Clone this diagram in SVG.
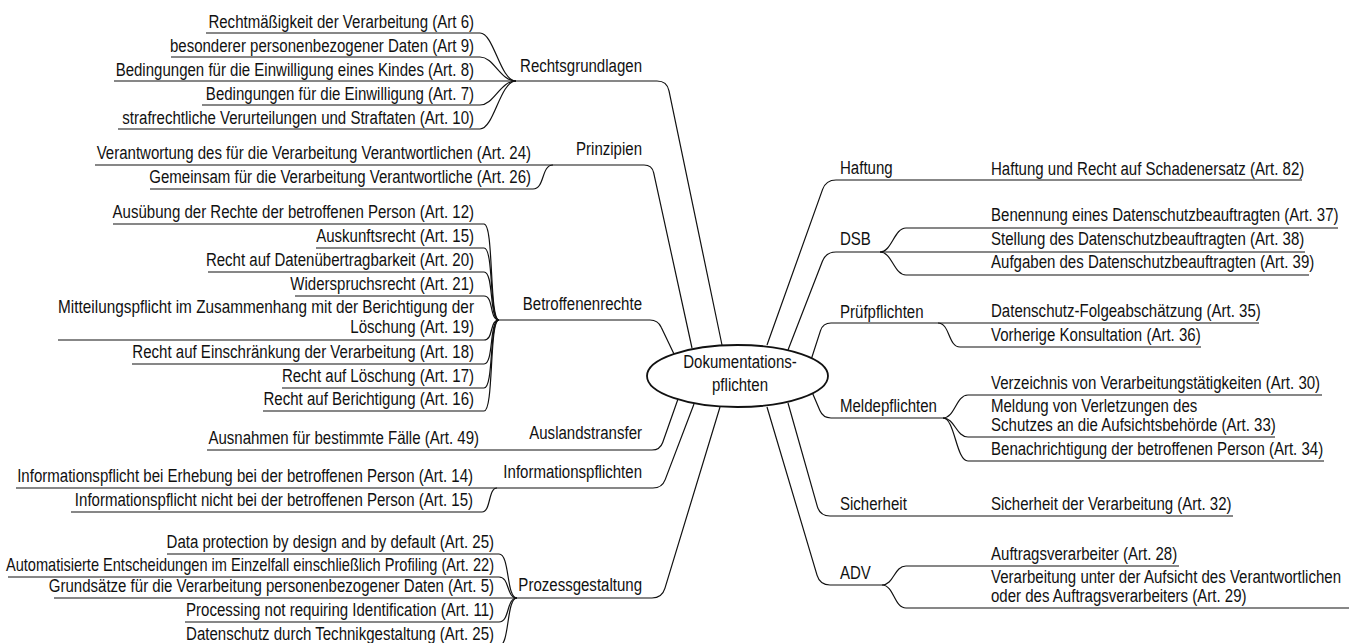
<svg xmlns="http://www.w3.org/2000/svg" width="1359" height="643" viewBox="0 0 1359 643">
<style>
text{font-family:"Liberation Sans Narrow","Liberation Sans",Arial,sans-serif;font-size:18px;fill:#111}
.e{text-anchor:end}
.m{text-anchor:middle}
.c path{fill:none;stroke:#111;stroke-width:1.2}
</style>
<rect width="1359" height="643" fill="#fff"/>
<g class="c" id="connectors">
<path d="M516 81 H657 Q667 81 669 90.8 L722 345"/>
<path d="M553 165 H644 Q652 165 653.7 172.8 L692 348"/>
<path d="M499 320 H650 Q658 320 661.2 327.3 L674 354"/>
<path d="M207 450 H652 Q660 450 662.7 442.5 L678 399"/>
<path d="M497 488 H653 Q662 488 665.2 479.6 L694 404"/>
<path d="M517 598 H652 Q662 598 664.9 588.4 L720 407"/>
<path d="M767 345 L822.6 189.4 Q826 180 836 180 H1302"/>
<path d="M788 350 L822.4 261.3 Q826 252 836 252 H880"/>
<path d="M811 360 L820.5 330.6 Q823 323 831 323 H1259"/>
<path d="M812 392 L819.9 410.6 Q823 418 831 418 H943"/>
<path d="M788 403 L817.3 506.4 Q820 516 830 516 H1233"/>
<path d="M767 407 L817.1 575.4 Q820 585 830 585 H882"/>
<path d="M206 33 H480 C494 33 500 81 516 81"/>
<path d="M171 57 H480 C494 57 500 81 516 81"/>
<path d="M114 81 H516"/>
<path d="M202 105 H480 C494 105 500 81 516 81"/>
<path d="M118 129 H480 C494 129 500 81 516 81"/>
<path d="M95 165 H553"/>
<path d="M150 189 H533 C545 189 541 165 553 165"/>
<path d="M113 224 H484 C494 224 489 320 499 320"/>
<path d="M316 248 H484 C494 248 489 320 499 320"/>
<path d="M208 272 H484 C494 272 489 320 499 320"/>
<path d="M295 296 H484 C494 296 489 320 499 320"/>
<path d="M58 340 H484 C494 340 489 320 499 320"/>
<path d="M132 364 H484 C494 364 489 320 499 320"/>
<path d="M282 388 H484 C494 388 489 320 499 320"/>
<path d="M263 411 H484 C494 411 489 320 499 320"/>
<path d="M16 488 H497"/>
<path d="M71 512 H482 C491 512 488 488 497 488"/>
<path d="M167 554 H499 C510 554 506 598 517 598"/>
<path d="M8 577 H499 C510 577 506 598 517 598"/>
<path d="M54 598 H517"/>
<path d="M185 622 H499 C510 622 506 598 517 598"/>
<path d="M186 646 H499 C510 646 506 598 517 598"/>
<path d="M880 252 C892 252 894 228 906 228 H1338"/>
<path d="M880 252 H1305"/>
<path d="M880 252 C892 252 894 275 906 275 H1309"/>
<path d="M938 323 C950 323 948 347 960 347 H1201"/>
<path d="M943 418 C955 418 956 395 968 395 H1322"/>
<path d="M943 418 C955 418 956 437 968 437 H1275"/>
<path d="M943 418 C955 418 956 461 968 461 H1324"/>
<path d="M882 585 C894 585 894 566 906 566 H1179"/>
<path d="M882 585 C894 585 894 608 906 608 H1349"/>
</g>
<g id="center">
<ellipse cx="737.5" cy="376" rx="90.5" ry="31" fill="#fff" stroke="#111" stroke-width="1.8"/>
<text class="m" transform="matrix(0.835 0 0 1 740 368)">Dokumentations-</text>
<text class="m" transform="matrix(0.835 0 0 1 740 391)">pflichten</text>
</g>
<g id="rechtsgrundlagen">
<text class="e" transform="matrix(0.835 0 0 1 642 72)">Rechtsgrundlagen</text>
<text class="e" transform="matrix(0.835 0 0 1 474 28)">Rechtmäßigkeit der Verarbeitung (Art 6)</text>
<text class="e" transform="matrix(0.835 0 0 1 474 52)">besonderer personenbezogener Daten (Art 9)</text>
<text class="e" transform="matrix(0.835 0 0 1 474 76)">Bedingungen für die Einwilligung eines Kindes (Art. 8)</text>
<text class="e" transform="matrix(0.835 0 0 1 474 100)">Bedingungen für die Einwilligung (Art. 7)</text>
<text class="e" transform="matrix(0.835 0 0 1 474 124)">strafrechtliche Verurteilungen und Straftaten (Art. 10)</text>
</g>
<g id="prinzipien">
<text class="e" transform="matrix(0.835 0 0 1 642 155)">Prinzipien</text>
<text class="e" transform="matrix(0.835 0 0 1 531 159)">Verantwortung des für die Verarbeitung Verantwortlichen (Art. 24)</text>
<text class="e" transform="matrix(0.835 0 0 1 531 183)">Gemeinsam für die Verarbeitung Verantwortliche (Art. 26)</text>
</g>
<g id="betroffenenrechte">
<text class="e" transform="matrix(0.835 0 0 1 642 310)">Betroffenenrechte</text>
<text class="e" transform="matrix(0.835 0 0 1 474 218)">Ausübung der Rechte der betroffenen Person (Art. 12)</text>
<text class="e" transform="matrix(0.835 0 0 1 474 242)">Auskunftsrecht (Art. 15)</text>
<text class="e" transform="matrix(0.835 0 0 1 474 266)">Recht auf Datenübertragbarkeit (Art. 20)</text>
<text class="e" transform="matrix(0.835 0 0 1 474 290)">Widerspruchsrecht (Art. 21)</text>
<text class="e" transform="matrix(0.852 0 0 1 474 313)">Mitteilungspflicht im Zusammenhang mit der Berichtigung der</text>
<text class="e" transform="matrix(0.835 0 0 1 474 333)">Löschung (Art. 19)</text>
<text class="e" transform="matrix(0.835 0 0 1 474 358)">Recht auf Einschränkung der Verarbeitung (Art. 18)</text>
<text class="e" transform="matrix(0.835 0 0 1 474 382)">Recht auf Löschung (Art. 17)</text>
<text class="e" transform="matrix(0.835 0 0 1 474 405)">Recht auf Berichtigung (Art. 16)</text>
</g>
<g id="auslandstransfer">
<text class="e" transform="matrix(0.835 0 0 1 642 439)">Auslandstransfer</text>
<text class="e" transform="matrix(0.835 0 0 1 479 444)">Ausnahmen für bestimmte Fälle (Art. 49)</text>
</g>
<g id="informationspflichten">
<text class="e" transform="matrix(0.835 0 0 1 642 478)">Informationspflichten</text>
<text class="e" transform="matrix(0.835 0 0 1 473 482)">Informationspflicht bei Erhebung bei der betroffenen Person (Art. 14)</text>
<text class="e" transform="matrix(0.835 0 0 1 473 506)">Informationspflicht nicht bei der betroffenen Person (Art. 15)</text>
</g>
<g id="prozessgestaltung">
<text class="e" transform="matrix(0.835 0 0 1 642 591)">Prozessgestaltung</text>
<text class="e" transform="matrix(0.835 0 0 1 494 548)">Data protection by design and by default (Art. 25)</text>
<text class="e" transform="matrix(0.81 0 0 1 494 571)">Automatisierte Entscheidungen im Einzelfall einschließlich Profiling (Art. 22)</text>
<text class="e" transform="matrix(0.835 0 0 1 494 592)">Grundsätze für die Verarbeitung personenbezogener Daten (Art. 5)</text>
<text class="e" transform="matrix(0.835 0 0 1 494 616)">Processing not requiring Identification (Art. 11)</text>
<text class="e" transform="matrix(0.835 0 0 1 494 640)">Datenschutz durch Technikgestaltung (Art. 25)</text>
</g>
<g id="haftung">
<text transform="matrix(0.835 0 0 1 840 174)">Haftung</text>
<text transform="matrix(0.835 0 0 1 991 175)">Haftung und Recht auf Schadenersatz (Art. 82)</text>
</g>
<g id="dsb">
<text transform="matrix(0.835 0 0 1 840 245)">DSB</text>
<text transform="matrix(0.835 0 0 1 991 221)">Benennung eines Datenschutzbeauftragten (Art. 37)</text>
<text transform="matrix(0.835 0 0 1 991 245)">Stellung des Datenschutzbeauftragten (Art. 38)</text>
<text transform="matrix(0.835 0 0 1 991 268)">Aufgaben des Datenschutzbeauftragten (Art. 39)</text>
</g>
<g id="pruefpflichten">
<text transform="matrix(0.835 0 0 1 840 318)">Prüfpflichten</text>
<text transform="matrix(0.835 0 0 1 991 317)">Datenschutz-Folgeabschätzung (Art. 35)</text>
<text transform="matrix(0.835 0 0 1 991 341)">Vorherige Konsultation (Art. 36)</text>
</g>
<g id="meldepflichten">
<text transform="matrix(0.835 0 0 1 840 412)">Meldepflichten</text>
<text transform="matrix(0.835 0 0 1 991 389)">Verzeichnis von Verarbeitungstätigkeiten (Art. 30)</text>
<text transform="matrix(0.835 0 0 1 991 412)">Meldung von Verletzungen des</text>
<text transform="matrix(0.835 0 0 1 991 431)">Schutzes an die Aufsichtsbehörde (Art. 33)</text>
<text transform="matrix(0.835 0 0 1 991 455)">Benachrichtigung der betroffenen Person (Art. 34)</text>
</g>
<g id="sicherheit">
<text transform="matrix(0.835 0 0 1 840 510)">Sicherheit</text>
<text transform="matrix(0.835 0 0 1 991 510)">Sicherheit der Verarbeitung (Art. 32)</text>
</g>
<g id="adv">
<text transform="matrix(0.835 0 0 1 840 579)">ADV</text>
<text transform="matrix(0.835 0 0 1 991 560)">Auftragsverarbeiter (Art. 28)</text>
<text transform="matrix(0.835 0 0 1 991 583)">Verarbeitung unter der Aufsicht des Verantwortlichen</text>
<text transform="matrix(0.835 0 0 1 991 602)">oder des Auftragsverarbeiters (Art. 29)</text>
</g>
</svg>
